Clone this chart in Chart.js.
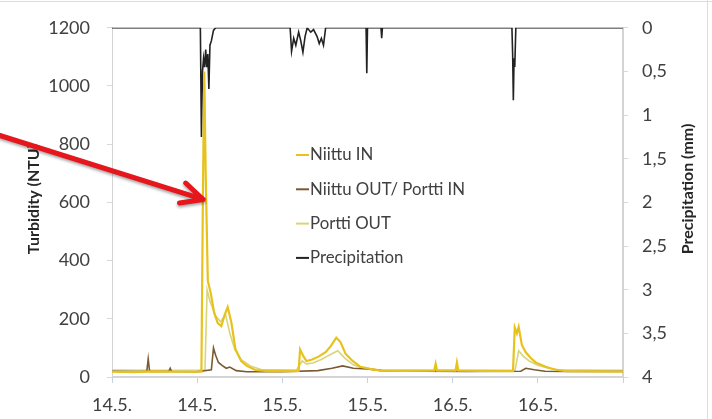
<!DOCTYPE html>
<html lang="fi">
<head>
<meta charset="UTF-8" />
<title>Turbidity and precipitation</title>
<script src="https://cdn.jsdelivr.net/npm/chart.js"></script>
<style>
  html, body { margin: 0; padding: 0; background: #fff; }
  #wrap { width: 712px; height: 419px; }
</style>
</head>
<body>
<div id="wrap"><canvas id="turbChart" width="712" height="419"></canvas></div>
<script>
// time in hours from 14.5. 00:00, three days on the axis
const xTickLabels = ["14.5.", "14.5.", "15.5.", "15.5.", "16.5.", "16.5.", ""];
const precipTickLabels = ["0", "0,5", "1", "1,5", "2", "2,5", "3", "3,5", "4"];

const niittuInHours = [0, 3, 6, 9, 12, 12.6, 12.8, 13.0, 13.2, 13.5, 13.9, 14.4, 14.9, 15.4, 15.9, 16.3, 16.8, 17.4, 18.2, 19.0,
  20.2, 22, 25, 26.3, 26.5, 27.0, 27.4, 28.2, 29.1, 30.1, 30.8, 31.6, 32.2, 32.9, 33.9, 35.0, 36.4, 37.8, 41, 45.4,
  45.6, 45.8, 48.4, 48.6, 48.8, 52, 56.5, 56.75, 57.05, 57.3, 57.75, 58.3, 59.0, 59.7, 61.1, 62.5, 64, 68, 72];
const niittuInNtu = [18, 17, 19, 18, 18, 18, 600, 1050, 700, 330, 290, 220, 185, 175, 215, 240, 190, 95, 55, 38,
  24, 20, 20, 21, 95, 70, 55, 60, 70, 85, 105, 135, 120, 80, 55, 35, 28, 22, 21, 22,
  45, 22, 22, 50, 22, 21, 20, 170, 150, 172, 110, 85, 65, 50, 35, 25, 20, 19, 18];

const niittuOutHours = [0, 3, 4.9, 5.1, 5.3, 8.0, 8.2, 8.4, 12, 14.0, 14.3, 14.6, 15.0, 15.5, 16.1, 16.6, 17.5, 19, 24, 29,
  31, 32.5, 34, 36, 38, 44, 50, 57.6, 58.3, 59.5, 61, 64, 72];
const niittuOutNtu = [20, 19, 19, 62, 19, 19, 30, 19, 18, 25, 100, 75, 50, 40, 30, 34, 22, 18, 18, 22,
  30, 38, 30, 28, 22, 20, 19, 20, 30, 25, 20, 19, 19];

const porttiOutHours = [0, 6, 12, 13.1, 13.4, 13.8, 14.6, 15.3, 16.0, 16.6, 17.3, 18.2, 19.5, 21, 26, 26.8, 27.4, 28.3, 29.5, 30.6,
  31.8, 32.8, 34.0, 35.5, 37.5, 45, 52, 56.8, 57.3, 58.0, 58.8, 60.0, 61.5, 63, 66, 72];
const porttiOutNtu = [24, 23, 23, 24, 300, 260, 210, 190, 215, 150, 95, 60, 38, 26, 24, 55, 45, 48, 60, 75,
  90, 65, 42, 30, 25, 24, 23, 24, 90, 70, 55, 40, 30, 25, 24, 23];

const precipHours = [0, 12.45, 12.6, 12.75, 12.9, 13.05, 13.2, 13.35, 13.5, 13.65, 13.8, 14.0, 14.3, 14.6, 25.1, 25.3, 25.6, 25.9, 26.3, 26.6,
  26.9, 27.2, 27.5, 28.0, 28.4, 28.9, 29.2, 29.5, 29.8, 30.1, 35.8, 35.9, 36.0, 37.9, 38.0, 38.1, 56.35, 56.45, 56.55, 56.65,
  56.75, 56.9, 72];
const precipMm = [0, 0, 1.25, 0.5, 0.35, 0.45, 0.25, 0.45, 0.3, 0.7, 0.2, 0.15, 0.03, 0, 0, 0.27, 0.12, 0.2, 0.05, 0.15,
  0.28, 0.1, 0, 0.05, 0.02, 0.1, 0.18, 0.12, 0.2, 0, 0, 0.52, 0, 0, 0.12, 0, 0, 0.3, 0.83, 0.35,
  0.45, 0, 0];

// arrow pointing at the first turbidity peak (hours, NTU)
const arrowFrom = { h: -15.8, ntu: 830 };
const arrowTo = { h: 12.85, ntu: 610 };

const FONT = "Lato, 'Open Sans', sans-serif";

function pts(xs, ys) {
  return xs.map((x, i) => ({ x: x, y: ys[i] }));
}

function lineSet(label, data, color, axis, width) {
  return {
    label: label,
    data: data,
    borderColor: color,
    backgroundColor: color,
    borderWidth: width,
    pointRadius: 0,
    tension: 0,
    yAxisID: axis,
  };
}

function vTitle(ctx, text, x, y) {
  ctx.save();
  ctx.translate(x, y);
  ctx.rotate(-Math.PI / 2);
  ctx.font = "bold 16px " + FONT;
  ctx.fillStyle = "#262626";
  ctx.textAlign = "center";
  ctx.textBaseline = "middle";
  ctx.fillText(text, 0, 0);
  ctx.restore();
}

// legend drawn inside the plot, axis titles and the red arrow
const extras = {
  id: "extras",
  beforeDatasetsDraw(chart) {
    const ctx = chart.ctx;
    const a = chart.chartArea;
    ctx.save();
    ctx.strokeStyle = "#d4d4d4";
    ctx.lineWidth = 1;
    ctx.strokeRect(a.left + 0.5, a.top + 0.5, a.right - a.left - 1, a.bottom - a.top - 1);
    ctx.restore();
  },
  afterDatasetsDraw(chart) {
    const ctx = chart.ctx;
    ctx.save();

    // outer frame lines
    ctx.strokeStyle = "#dcdcdc";
    ctx.lineWidth = 1;
    ctx.beginPath();
    ctx.moveTo(0, 1.5);
    ctx.lineTo(712, 1.5);
    ctx.moveTo(707.5, 0);
    ctx.lineTo(707.5, 419);
    ctx.stroke();

    // legend
    ctx.font = "16.8px " + FONT;
    ctx.textBaseline = "middle";
    ctx.textAlign = "left";
    chart.data.datasets.forEach((ds, i) => {
      const y = 155 + i * 34.3;
      ctx.strokeStyle = ds.borderColor;
      ctx.lineWidth = 2;
      ctx.beginPath();
      ctx.moveTo(296, y);
      ctx.lineTo(309, y);
      ctx.stroke();
      ctx.fillStyle = "#404040";
      ctx.fillText(ds.label, 310, y);
    });

    vTitle(ctx, "Turbidity (NTU)", 34, 199);
    vTitle(ctx, "Precipitation (mm)", 688, 189);

    // arrow
    const xs = chart.scales.x, ys = chart.scales.y;
    const x0 = xs.getPixelForValue(arrowFrom.h), y0 = ys.getPixelForValue(arrowFrom.ntu);
    const x1 = xs.getPixelForValue(arrowTo.h), y1 = ys.getPixelForValue(arrowTo.ntu);
    const ang = Math.atan2(y0 - y1, x0 - x1);
    const head = 24, spread = 0.45;
    ctx.shadowColor = "rgba(0,0,0,0.35)";
    ctx.shadowBlur = 3;
    ctx.shadowOffsetY = 2;
    ctx.strokeStyle = "#e5161c";
    ctx.lineWidth = 5;
    ctx.lineCap = "round";
    ctx.lineJoin = "round";
    ctx.beginPath();
    ctx.moveTo(x0, y0);
    ctx.lineTo(x1, y1);
    ctx.moveTo(x1 + head * Math.cos(ang - spread), y1 + head * Math.sin(ang - spread));
    ctx.lineTo(x1, y1);
    ctx.lineTo(x1 + head * Math.cos(ang + spread), y1 + head * Math.sin(ang + spread));
    ctx.stroke();

    ctx.restore();
  },
};

const chart = new Chart(document.getElementById("turbChart"), {
  type: "line",
  data: {
    datasets: [
      lineSet("Niittu IN", pts(niittuInHours, niittuInNtu), "#e8c21c", "y", 2.2),
      lineSet("Niittu OUT/ Portti IN", pts(niittuOutHours, niittuOutNtu), "#7a5a32", "y", 1.6),
      lineSet("Portti OUT", pts(porttiOutHours, porttiOutNtu), "#d9d47c", "y", 1.6),
      lineSet("Precipitation", pts(precipHours, precipMm), "#222222", "y2", 1.6),
    ],
  },
  options: {
    responsive: false,
    animation: false,
    layout: { padding: { top: 21, left: 0, right: 0, bottom: 0 } },
    plugins: {
      legend: { display: false },
      tooltip: { enabled: false },
    },
    scales: {
      x: {
        type: "linear",
        min: 0,
        max: 72,
        afterFit(s) { s.height = 42; },
        afterBuildTicks(s) { s.ticks = xTickLabels.map((_, i) => ({ value: i * 12 })); },
        grid: { drawOnChartArea: false, drawTicks: true, tickLength: 6, color: "#c5d3e0" },
        border: { display: true, color: "#cfd8e0" },
        ticks: {
          autoSkip: false,
          maxRotation: 0,
          padding: 11,
          color: "#404040",
          font: { family: FONT, size: 18 },
          callback: (v, i) => xTickLabels[i],
        },
      },
      y: {
        position: "left",
        min: 0,
        max: 1200,
        afterFit(s) { s.width = 112; },
        grid: { drawOnChartArea: false, drawTicks: true, tickLength: 5, color: "#d9d9d9" },
        border: { display: true, color: "#d4d4d4" },
        ticks: {
          stepSize: 200,
          padding: 17,
          color: "#404040",
          font: { family: FONT, size: 18 },
          callback: (v) => String(v),
        },
      },
      y2: {
        position: "right",
        min: 0,
        max: 4,
        reverse: true,
        afterFit(s) { s.width = 89; },
        afterBuildTicks(s) { s.ticks = precipTickLabels.map((_, i) => ({ value: i * 0.5 })); },
        grid: { drawOnChartArea: false, drawTicks: true, tickLength: 5, color: "#d9d9d9" },
        border: { display: true, color: "#d4d4d4" },
        ticks: {
          padding: 14,
          color: "#404040",
          font: { family: FONT, size: 18 },
          callback: (v, i) => precipTickLabels[i],
        },
      },
    },
  },
  plugins: [extras],
});
</script>
</body>
</html>
